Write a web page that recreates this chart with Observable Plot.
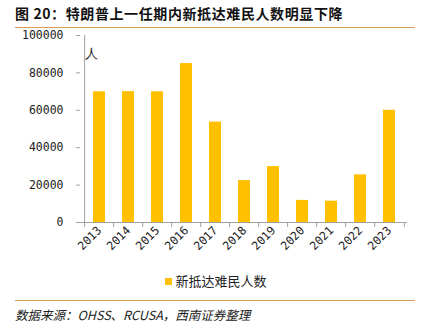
<!DOCTYPE html>
<html><head><meta charset="utf-8">
<script src="https://cdn.jsdelivr.net/npm/d3@7"></script>
<script src="https://cdn.jsdelivr.net/npm/@observablehq/plot@0.6"></script>
<style>
body{margin:0;background:#fff;width:432px;height:325px;position:relative;overflow:hidden;font-family:"Noto Sans CJK SC",sans-serif;}
#title{position:absolute;left:15px;top:3px;font-size:14px;font-weight:bold;letter-spacing:0.6px;color:#111;white-space:nowrap;}
#tline{position:absolute;left:15px;top:27px;width:400px;height:1px;background:#d9995a;}
#chart{position:absolute;left:0;top:28px;}
#legend{position:absolute;left:0;width:432px;top:271px;text-align:center;font-size:13px;color:#222;}
#legend span.sw{display:inline-block;width:7px;height:7px;background:#FFC000;margin-right:3px;vertical-align:1px;}
#fline{position:absolute;left:15px;top:300px;width:400px;height:1px;background:#d9995a;}
#foot{position:absolute;left:15px;top:305px;font-size:12.5px;font-style:italic;color:#222;white-space:nowrap;}
</style></head>
<body>
<div id="title">图 20：特朗普上一任期内新抵达难民人数明显下降</div>
<div id="tline"></div>
<div id="chart"></div>
<div id="legend"></div>
<div id="fline"></div>
<div id="foot">数据来源：OHSS、RCUSA，西南证券整理</div>
<script>
const years = ["2013","2014","2015","2016","2017","2018","2019","2020","2021","2022","2023"];
const refugees = [69909, 69975, 69920, 84989, 53691, 22405, 29916, 11814, 11411, 25465, 60014];
const yTicks = [0, 20000, 40000, 60000, 80000, 100000];
const seriesName = "新抵达难民人数";
const unitLabel = "人";

const data = years.map((y, i) => ({year: y, value: refugees[i]}));
const W = 432, H = 240, ML = 80, MR = 25, MT = 7, MB = 46;
const step = (W - ML - MR) / years.length;
const axisColor = "#a0a0a0";
const monoFont = "DejaVu Sans Mono";

const chart = Plot.plot({
  width: W, height: H,
  marginLeft: ML, marginRight: MR, marginTop: MT, marginBottom: MB,
  style: {background: "transparent", color: "#222"},
  x: {domain: years, paddingInner: 0.6, paddingOuter: 0.3},
  y: {domain: [0, 100000]},
  marks: [
    Plot.barY(data, {x: "year", y: "value", fill: "#FFC000"}),
    Plot.ruleY([0], {stroke: axisColor}),
    Plot.ruleX([years[0]], {y1: 0, y2: 100000, dx: -step/2, stroke: axisColor}),
    Plot.ruleX(years, {y1: 0, y2: 0, insetBottom: -5, dx: -step/2, stroke: axisColor}),
    Plot.ruleX([years[years.length-1]], {y1: 0, y2: 0, insetBottom: -5, dx: step/2, stroke: axisColor}),
    Plot.axisY({ticks: yTicks, tickFormat: d => String(d), tickSize: 4, tickPadding: 13, stroke: axisColor,
      fontFamily: monoFont, fontSize: 11.5, fill: "#222", label: null}),
    Plot.axisX({tickSize: 0, tickPadding: 6, tickRotate: -45, fontFamily: monoFont, fontSize: 11.5, fill: "#222", label: null}),
    Plot.text([unitLabel], {frameAnchor: "top-left", dx: 11, dy: 13, fontSize: 13, fill: "#222", textAnchor: "middle"})
  ]
});
document.getElementById("chart").appendChild(chart);
document.getElementById("legend").innerHTML = '<span class="sw"></span>' + seriesName;
</script>
</body></html>
